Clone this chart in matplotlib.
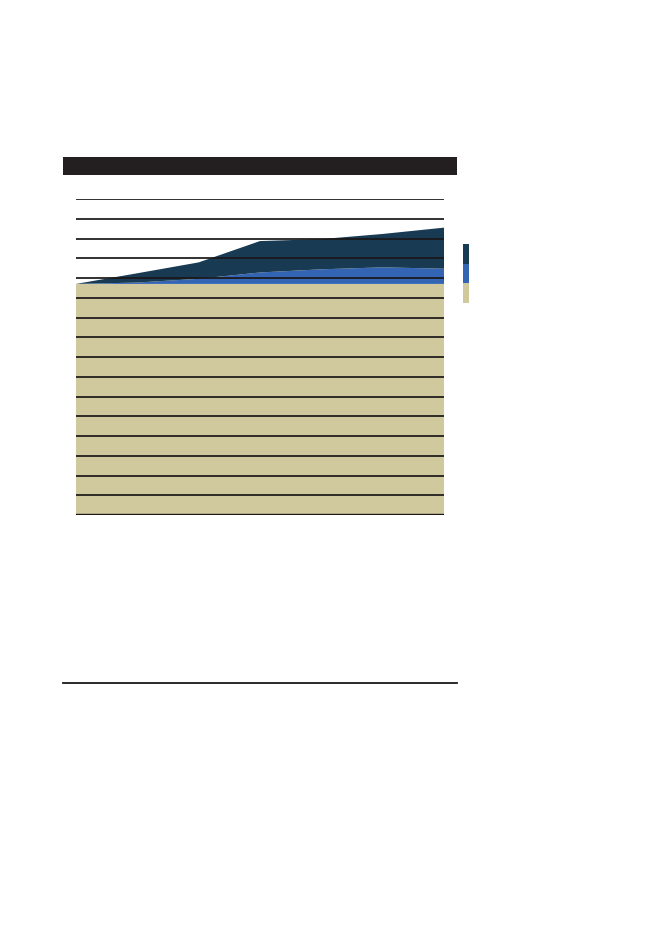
import matplotlib
matplotlib.use("Agg")
import matplotlib.pyplot as plt
from matplotlib.patches import Rectangle

# ====================================
# DATA
# ====================================

periods = [0, 1, 2, 3, 4, 5, 6]
base_values = [11.70, 11.70, 11.70, 11.70, 11.70, 11.70, 11.70]
middle_values = [0.00, 0.07, 0.26, 0.58, 0.74, 0.84, 0.77]
top_values = [0.00, 0.47, 0.83, 1.59, 1.53, 1.69, 2.08]

grid_levels = list(range(0, 17))

series_colors = ["#d0c99e", "#3465b5", "#183a52"]
ink = "#1a1718"

# ====================================
# FIGURE
# ====================================

W, H = 661, 933
fig = plt.figure(figsize=(W / 100, H / 100), dpi=100)
fig.patch.set_facecolor("white")

ax = fig.add_axes([76 / W, (H - 515) / H, 368 / W, 316 / H])

ax.stackplot(periods, base_values, middle_values, top_values,
             colors=series_colors, linewidth=0, zorder=1)

for level in grid_levels[1:]:
    ax.axhline(level, color=ink, linewidth=1.25, zorder=3)
ax.axhline(0, color=ink, linewidth=1.7, zorder=3)

ax.set_xlim(periods[0], periods[-1])
ax.set_ylim(grid_levels[0], grid_levels[-1])
ax.set_xticks([])
ax.set_yticks([])
for side in ax.spines.values():
    side.set_visible(False)

# header banner
fig.add_artist(Rectangle((63 / W, (H - 175) / H), 394 / W, 18 / H,
                         transform=fig.transFigure, facecolor="#231f20",
                         edgecolor="none"))

# bottom rule
fig.add_artist(plt.Line2D([63 / W, 457 / W], [(H - 683) / H, (H - 683) / H],
                          transform=fig.transFigure, color=ink, linewidth=1.3))

# legend swatches (top series first)
swatch_top = 244
swatch_h = 19.7
for i, color in enumerate(reversed(series_colors)):
    y0 = H - (swatch_top + (i + 1) * swatch_h)
    fig.add_artist(Rectangle((463 / W, y0 / H), 6 / W, swatch_h / H,
                             transform=fig.transFigure, facecolor=color,
                             edgecolor="none"))

plt.savefig("out.png", dpi=100)
plt.close()
